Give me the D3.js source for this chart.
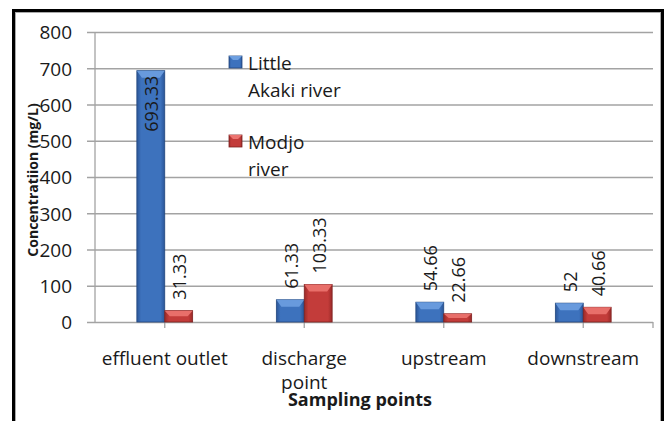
<!DOCTYPE html>
<html>
<head>
<meta charset="utf-8">
<script src="https://cdn.jsdelivr.net/npm/d3@7"></script>
<style>
  body { margin: 0; background: #fff; }
  text { font-family: "Open Sans", sans-serif; fill: #1a1a1a; }
</style>
</head>
<body>
<div id="chart"></div>
<script>
var svgWidth = 667;
var svgHeight = 421;

// data
var categories = ["effluent outlet", "discharge point", "upstream", "downstream"];
var categoryLines = [["effluent outlet"], ["discharge", "point"], ["upstream"], ["downstream"]];
var seriesNames = ["Little Akaki river", "Modjo river"];
var legendLines = [["Little", "Akaki river"], ["Modjo", "river"]];
var littleAkaki = [693.33, 61.33, 54.66, 52];
var modjo = [31.33, 103.33, 22.66, 40.66];
var labelText = [["693.33", "61.33", "54.66", "52"], ["31.33", "103.33", "22.66", "40.66"]];
var yTicks = [0, 100, 200, 300, 400, 500, 600, 700, 800];

var margin = { top: 32, right: 14, bottom: 99, left: 95 };
var chartWidth = svgWidth - margin.left - margin.right;
var chartHeight = svgHeight - margin.top - margin.bottom;

var colors = [
  { main: "#3d72bd", light: "#6d9fe0", dark: "#2b5597", edge: "#23487f" },
  { main: "#c33c3a", light: "#ec7470", dark: "#9a2a28", edge: "#7e2120" }
];

var svg = d3.select("#chart")
  .append("svg")
  .attr("width", svgWidth)
  .attr("height", svgHeight);

// outer frame
svg.append("rect")
  .attr("x", 15).attr("y", 12)
  .attr("width", 646).attr("height", 430)
  .attr("fill", "none")
  .attr("stroke", "#aaa")
  .attr("stroke-width", 2);
svg.append("rect")
  .attr("x", 13.5).attr("y", 10.5)
  .attr("width", 649).attr("height", 430)
  .attr("fill", "none")
  .attr("stroke", "#000")
  .attr("stroke-width", 3);

var defs = svg.append("defs");
colors.forEach(function(c, i) {
  var g = defs.append("linearGradient")
    .attr("id", "grad" + i)
    .attr("x1", "0").attr("x2", "1").attr("y1", "0").attr("y2", "0");
  g.append("stop").attr("offset", "0").attr("stop-color", c.dark);
  g.append("stop").attr("offset", "0.15").attr("stop-color", c.main);
  g.append("stop").attr("offset", "0.85").attr("stop-color", c.main);
  g.append("stop").attr("offset", "1").attr("stop-color", c.dark);
});

var chartGroup = svg.append("g")
  .attr("transform", `translate(${margin.left},${margin.top})`);

var x0 = d3.scaleBand()
  .domain(categories)
  .range([0, chartWidth])
  .paddingInner(0.6)
  .paddingOuter(0.3);

var x1 = d3.scaleBand()
  .domain([0, 1])
  .range([0, x0.bandwidth()]);

var y = d3.scaleLinear()
  .domain([0, 800])
  .range([chartHeight, 0]);

// gridlines and y axis
var yAxis = chartGroup.append("g")
  .call(d3.axisLeft(y).tickValues(yTicks).tickSize(-chartWidth - 8).tickPadding(15).tickFormat(d3.format("d")));
yAxis.select(".domain").remove();
yAxis.selectAll(".tick line")
  .attr("x1", -8)
  .attr("x2", chartWidth)
  .attr("stroke", "#a3a3a3")
  .attr("stroke-width", 1.3);
yAxis.selectAll(".tick text")
  .style("font-size", "19px")
  .attr("x", -23)
  .attr("dy", "0.36em");

chartGroup.append("line")
  .attr("x1", 0).attr("x2", 0)
  .attr("y1", 0).attr("y2", chartHeight)
  .attr("stroke", "#a3a3a3")
  .attr("stroke-width", 1.3);

// x axis ticks at category centres and right end
var xTickPos = categories.map(function(c) { return x0(c) + x0.bandwidth() / 2; }).concat([chartWidth]);
chartGroup.selectAll("line.xtick")
  .data(xTickPos)
  .enter()
  .append("line")
  .attr("class", "xtick")
  .attr("x1", d => d).attr("x2", d => d)
  .attr("y1", chartHeight).attr("y2", chartHeight + 6)
  .attr("stroke", "#a3a3a3")
  .attr("stroke-width", 1.3);

// bars
var series = [littleAkaki, modjo];
var barData = [];
categories.forEach(function(c, ci) {
  series.forEach(function(s, si) {
    barData.push({ cat: c, si: si, value: s[ci], label: labelText[si][ci] });
  });
});

var bars = chartGroup.selectAll("g.bar")
  .data(barData)
  .enter()
  .append("g")
  .attr("class", "bar");

bars.append("rect")
  .attr("x", d => x0(d.cat) + x1(d.si))
  .attr("y", d => y(d.value))
  .attr("width", x1.bandwidth())
  .attr("height", d => chartHeight - y(d.value))
  .attr("fill", d => `url(#grad${d.si})`)
  .attr("stroke", d => colors[d.si].edge)
  .attr("stroke-width", 0.8);

// top bevel
bars.append("path")
  .attr("d", function(d) {
    var xl = x0(d.cat) + x1(d.si), xr = xl + x1.bandwidth(), yt = y(d.value);
    var h = Math.min(7, (chartHeight - yt) / 2), b = 5;
    return `M${xl},${yt}L${xr},${yt}L${xr - b},${yt + h}L${xl + b},${yt + h}Z`;
  })
  .attr("fill", d => colors[d.si].light)
  .attr("opacity", 0.9);

// data labels, rotated
bars.append("text")
  .text(d => d.label)
  .style("font-size", "18px")
  .attr("dy", "0.36em")
  .each(function(d) {
    var len = this.getComputedTextLength();
    var cx = x0(d.cat) + x1(d.si) + x1.bandwidth() / 2 + 1;
    var yt = y(d.value);
    var start = yt - 11;
    var sel = d3.select(this);
    if (start - len < 0) {
      sel.attr("text-anchor", "end")
        .attr("transform", `translate(${cx},${yt + 5}) rotate(-90)`);
    } else {
      sel.attr("text-anchor", "start")
        .attr("transform", `translate(${cx},${start}) rotate(-90)`);
    }
  });

// category labels
var catLabels = chartGroup.selectAll("text.cat")
  .data(categories)
  .enter()
  .append("text")
  .attr("class", "cat")
  .attr("text-anchor", "middle")
  .style("font-size", "19px")
  .attr("transform", d => `translate(${x0(d) + x0.bandwidth() / 2},${chartHeight + 43})`);
catLabels.each(function(d, i) {
  var t = d3.select(this);
  categoryLines[i].forEach(function(line, li) {
    t.append("tspan").attr("x", 0).attr("y", li * 24).text(line);
  });
});

// axis titles
chartGroup.append("text")
  .attr("text-anchor", "middle")
  .style("font-size", "18px")
  .style("font-weight", "bold")
  .attr("x", chartWidth / 2 - 14)
  .attr("y", chartHeight + 84)
  .text("Sampling points");

svg.append("text")
  .attr("text-anchor", "middle")
  .style("font-size", "14px")
  .style("font-weight", "bold")
  .attr("transform", "translate(38,180) rotate(-90)")
  .text("Concentratiion (mg/L)");

// legend
var legend = svg.selectAll("g.legend")
  .data(seriesNames)
  .enter()
  .append("g")
  .attr("class", "legend")
  .attr("transform", (d, i) => `translate(229,${56 + i * 79})`);

legend.append("rect")
  .attr("width", 13).attr("height", 12)
  .attr("fill", (d, i) => `url(#grad${i})`)
  .attr("stroke", (d, i) => colors[i].edge)
  .attr("stroke-width", 0.8);
legend.append("path")
  .attr("d", "M0,0L13,0L9,4L4,4Z")
  .attr("fill", (d, i) => colors[i].light);

legend.append("text")
  .style("font-size", "19px")
  .each(function(d, i) {
    var t = d3.select(this);
    legendLines[i].forEach(function(line, li) {
      t.append("tspan").attr("x", 19).attr("y", 14 + li * 27).text(line);
    });
  });
</script>
</body>
</html>
